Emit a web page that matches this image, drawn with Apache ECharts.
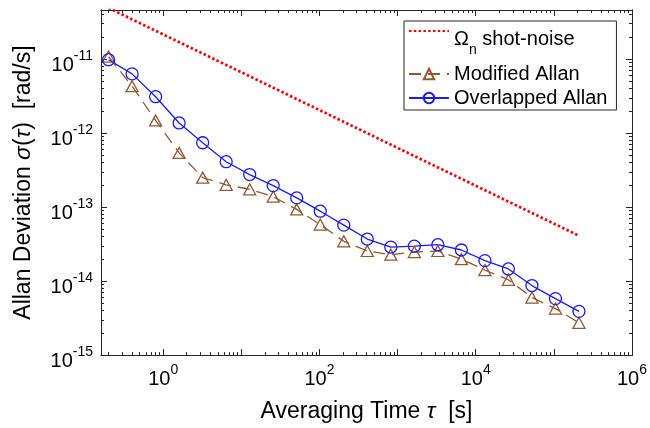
<!DOCTYPE html>
<html>
<head>
<meta charset="utf-8">
<script src="https://cdn.jsdelivr.net/npm/echarts@6/dist/echarts.min.js"></script>
<style>
  html, body { margin: 0; padding: 0; background: #fff; }
  #main { width: 650px; height: 428px; }
</style>
</head>
<body>
<div id="main"></div>
<script>
// averaging time tau [s], octave spaced
var tau = [0.2, 0.4, 0.8, 1.6, 3.2, 6.4, 12.8, 25.6, 51.2, 102.4, 204.8, 409.6, 819.2,
  1638.4, 3276.8, 6553.6, 13107.2, 26214.4, 52428.8, 104857.6, 209715.2];
// Allan deviation [rad/s]
var overlapped = [9.8e-12, 6.3e-12, 3.1e-12, 1.37e-12, 7.4e-13, 4.1e-13, 2.75e-13, 1.95e-13,
  1.33e-13, 8.8e-14, 5.7e-14, 3.7e-14, 2.88e-14, 2.97e-14, 3.1e-14, 2.63e-14, 1.89e-14,
  1.46e-14, 8.7e-15, 5.8e-15, 3.9e-15];
var modified = [1.08e-11, 4.3e-12, 1.48e-12, 5.4e-13, 2.5e-13, 2.0e-13, 1.74e-13, 1.38e-13,
  9.3e-14, 5.8e-14, 3.45e-14, 2.55e-14, 2.27e-14, 2.47e-14, 2.55e-14, 1.98e-14, 1.41e-14,
  1.04e-14, 6.0e-15, 4.25e-15, 2.73e-15];
// shot-noise limit (straight line in log-log)
var shotTau = [0.2, 209715.2];
var shotNoise = [4.9e-11, 4.1e-14];

var xLabelTicks = [1, 100, 1e4, 1e6];
var xMajorTicks = [1, 10, 100, 1e3, 1e4, 1e5, 1e6];
var yLabelTicks = [1e-15, 1e-14, 1e-13, 1e-12, 1e-11];

var XMIN = 0.16, XMAX = 1e6;
var YMIN = 1e-15, YMAX = 4.6e-11;

var FONT = 'Liberation Sans';
var AX = '#262626';
var BLUE = '#1a1aff';
var BROWN = '#96572f';
var RED = '#ff0000';
var NONE = 'rgba(0,0,0,0)';
var SHOT = 'shot';

// 2..9 x 10^k ticks inside the range
function minorTicks(lo, hi) {
  var out = [];
  for (var e = Math.floor(Math.log10(lo)); e <= Math.ceil(Math.log10(hi)); e++) {
    for (var m = 2; m < 10; m++) {
      var v = m * Math.pow(10, e);
      if (v >= lo && v <= hi) out.push(v);
    }
  }
  return out;
}

function pow10(v) {
  return '{b|10}{s|' + Math.round(Math.log10(v)) + '}';
}

var labelRich = {
  b: { fontFamily: FONT, fontSize: 20, color: '#000', lineHeight: 20, padding: [6, 0, 6, 0], verticalAlign: 'top' },
  s: { fontFamily: FONT, fontSize: 14, color: '#000', lineHeight: 14, verticalAlign: 'top' }
};

function pairs(xs, ys) {
  return xs.map(function (x, i) { return [x, ys[i]]; });
}

// one log axis: either the labelled/major one or a minor-tick one
function logAxis(pos, min, max, ticks, len, extra) {
  var a = {
    type: 'log', logBase: 10, min: min, max: max, position: pos,
    axisLine: { show: true, onZero: false, lineStyle: { color: AX, width: 1 } },
    axisTick: { show: true, inside: true, length: len, customValues: ticks, lineStyle: { color: AX, width: 1 } },
    axisLabel: { show: false },
    splitLine: { show: false }
  };
  return Object.assign(a, extra || {});
}

var xMinor = minorTicks(XMIN, XMAX);
var yMinor = minorTicks(YMIN, YMAX);
var yMajor = yLabelTicks;

var nameRich = { it: { fontFamily: FONT, fontSize: 23, fontStyle: 'italic', color: '#000' } };

var chart = echarts.init(document.getElementById('main'), null, { renderer: 'canvas' });
chart.setOption({
  animation: false,
  backgroundColor: '#fff',
  grid: { left: 101, right: 18, top: 10, bottom: 68 },
  xAxis: [
    logAxis('bottom', XMIN, XMAX, xMajorTicks, 6, {
      axisLabel: { show: true, customValues: xLabelTicks, formatter: pow10, margin: 8, rich: labelRich },
      name: 'Averaging Time {it|τ}  [s]', nameLocation: 'middle', nameGap: 37,
      nameTextStyle: { fontFamily: FONT, fontSize: 23, color: '#000', rich: nameRich }
    }),
    logAxis('bottom', XMIN, XMAX, xMinor, 3),
    logAxis('top', XMIN, XMAX, xMajorTicks, 6),
    logAxis('top', XMIN, XMAX, xMinor, 3)
  ],
  yAxis: [
    logAxis('left', YMIN, YMAX, yMajor, 6, {
      axisLabel: { show: true, customValues: yLabelTicks, formatter: pow10, margin: 8, rich: labelRich },
      name: 'Allan Deviation {it|σ}({it|τ})  [rad/s]', nameLocation: 'middle', nameGap: 66,
      nameTextStyle: { fontFamily: FONT, fontSize: 23, color: '#000', rich: nameRich }
    }),
    logAxis('left', YMIN, YMAX, yMinor, 3),
    logAxis('right', YMIN, YMAX, yMajor, 6),
    logAxis('right', YMIN, YMAX, yMinor, 3)
  ],
  legend: {
    orient: 'vertical', left: 404, top: 21,
    backgroundColor: '#fff', borderColor: AX, borderWidth: 1, borderRadius: 0,
    padding: [0, 9, 1, 4], itemGap: 2, itemWidth: 40, itemHeight: 13,
    selectedMode: false,
    data: [
      { name: SHOT, itemStyle: { color: NONE, borderColor: NONE, borderWidth: 0 } },
      'Modified Allan', 'Overlapped Allan'
    ],
    formatter: function (name) {
      return name === SHOT ? '{om|Ω}{sub|n}{om| shot-noise}' : name;
    },
    textStyle: {
      fontFamily: FONT, fontSize: 20, color: '#000', lineHeight: 22,
      rich: {
        om: { fontFamily: FONT, fontSize: 20, color: '#000', lineHeight: 20, padding: [8, 0, 0, 0], verticalAlign: 'top' },
        sub: { fontFamily: FONT, fontSize: 14, color: '#000', lineHeight: 14, padding: [22, 0, 4, 0], verticalAlign: 'top' }
      }
    }
  },
  series: [
    {
      name: SHOT, type: 'line', xAxisIndex: 0, yAxisIndex: 0,
      data: pairs(shotTau, shotNoise), symbol: 'none',
      lineStyle: { color: RED, width: 2.7, type: [2.5, 2.3] },
      itemStyle: { color: NONE, borderColor: NONE, borderWidth: 0 }
    },
    {
      name: 'Modified Allan', type: 'line', xAxisIndex: 0, yAxisIndex: 0,
      data: pairs(tau, modified), symbol: 'triangle', symbolSize: [12, 11],
      lineStyle: { color: BROWN, width: 1.3, type: [12, 7] },
      itemStyle: { color: NONE, borderColor: BROWN, borderWidth: 1.3 }
    },
    {
      name: 'Overlapped Allan', type: 'line', xAxisIndex: 0, yAxisIndex: 0,
      data: pairs(tau, overlapped), symbol: 'circle', symbolSize: 12,
      lineStyle: { color: BLUE, width: 1.3 },
      itemStyle: { color: NONE, borderColor: BLUE, borderWidth: 1.3 }
    }
  ]
});
</script>
</body>
</html>
